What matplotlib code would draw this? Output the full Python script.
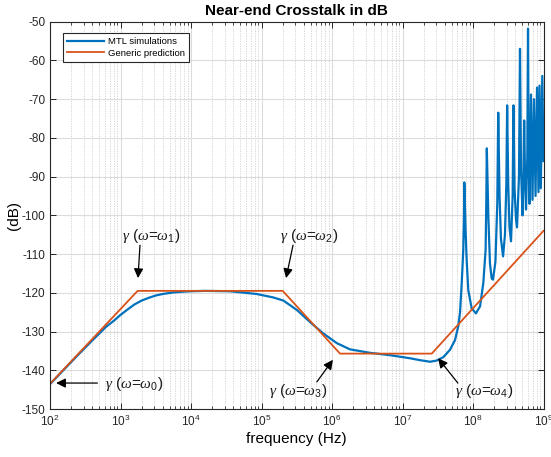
import matplotlib
matplotlib.use("Agg")
import matplotlib.pyplot as plt
import numpy as np

plt.rcParams['font.family'] = ['Liberation Sans', 'DejaVu Sans']
plt.rcParams['mathtext.fontset'] = 'custom'
plt.rcParams['mathtext.rm'] = 'Liberation Sans'
plt.rcParams['mathtext.it'] = 'Liberation Serif:italic'
plt.rcParams['mathtext.bf'] = 'Liberation Sans:bold'
plt.rcParams['axes.unicode_minus'] = False

# ---------------- data ----------------
title = "Near-end Crosstalk in dB"
xlabel = "frequency (Hz)"
ylabel = "(dB)"
series_names = ["MTL simulations", "Generic prediction"]

# MTL simulation curve (frequency in Hz, level in dB)
mtl_freq = [
    1.0e2, 1.58e2, 2.51e2, 3.98e2, 6.31e2, 7.94e2, 1.0e3, 1.26e3, 1.58e3, 2.0e3,
    2.51e3, 3.16e3, 3.98e3, 5.62e3, 7.94e3, 1.0e4, 1.58e4, 3.57e4, 8.51e4, 1.47e5,
    2.04e5, 3.16e5, 5.13e5, 7.53e5, 1.17e6, 1.80e6, 3.47e6, 6.61e6, 1.28e7, 1.78e7,
    2.45e7, 3.05e7, 3.80e7, 4.72e7, 5.56e7, 6.17e7, 6.55e7, 6.92e7, 7.28e7, 7.45e7,
    7.53e7, 7.87e7, 8.13e7, 8.57e7, 9.57e7, 1.10e8, 1.26e8, 1.40e8, 1.51e8, 1.545e8,
    1.57e8, 1.65e8, 1.74e8, 1.84e8, 1.92e8, 2.08e8, 2.21e8, 2.28e8, 2.38e8, 2.49e8,
    2.67e8, 2.84e8, 2.97e8, 3.05e8, 3.16e8, 3.29e8, 3.46e8, 3.65e8, 3.75e8, 3.88e8,
    4.07e8, 4.21e8, 4.49e8, 4.64e8, 4.80e8, 5.04e8, 5.20e8, 5.32e8, 5.47e8, 5.65e8,
    5.89e8, 6.03e8, 6.17e8, 6.33e8, 6.65e8, 6.98e8, 7.33e8, 7.71e8, 8.09e8, 8.49e8,
    8.77e8, 9.16e8, 9.62e8, 1.0e9,
]
mtl_db = [
    -143.6, -139.8, -136.0, -132.3, -128.7, -127.3, -125.7, -124.3, -123.0, -122.0,
    -121.3, -120.7, -120.3, -119.9, -119.7, -119.6, -119.5, -119.6, -120.3, -121.2,
    -122.0, -124.4, -127.9, -130.5, -133.0, -134.6, -135.5, -136.1, -136.9, -137.4,
    -137.8, -137.5, -136.6, -134.7, -132.2, -128.7, -125.0, -117.5, -108.9, -100.3,
    -91.5, -104.6, -111.5, -119.3, -124.0, -125.3, -123.5, -117.5, -108.9, -96.0,
    -82.7, -100.3, -112.4, -116.3, -116.6, -112.0, -97.0, -73.5, -95.0, -106.0,
    -110.6, -105.0, -92.0, -71.6, -92.0, -103.0, -106.7, -95.0, -71.6, -93.0,
    -101.0, -103.1, -90.0, -57.0, -88.0, -100.0, -90.0, -75.5, -90.0, -98.5,
    -85.0, -51.8, -85.0, -97.0, -68.8, -96.0, -70.0, -95.0, -67.0, -94.0,
    -66.5, -93.0, -64.0, -86.0,
]

# Generic (asymptotic) prediction: corner points
pred_freq = [1.0e2, 1.75e3, 2.0e5, 1.3e6, 2.6e7, 1.0e9]
pred_db = [-143.5, -119.5, -119.5, -135.7, -135.7, -104.0]

# annotations: label subscript, arrow tip (freq, dB), arrow tail (freq, dB), text pos (freq, dB)
ann_sub = ["0", "1", "2", "3", "4"]
ann_tip = [(1.22e2, -143.3), (1.77e3, -116.2), (2.23e5, -116.2), (1.03e6, -137.3), (3.2e7, -136.9)]
ann_tail = [(4.7e2, -143.3), (1.89e3, -107.7), (2.8e5, -107.7), (6.1e5, -143.0), (6.1e7, -143.3)]
ann_text = [(1.55e3, -143.6), (2.7e3, -105.3), (4.7e5, -105.3), (3.3e5, -145.3), (1.45e8, -145.3)]

# ---------------- figure ----------------
fig = plt.figure(figsize=(5.51, 4.57), dpi=100)
ax = fig.add_axes([50 / 551, 1 - 409 / 457, 493.5 / 551, (409 - 21.7) / 457])

blue = '#0072BD'
red = '#D95319'
ax.semilogx(mtl_freq, mtl_db, color=blue, lw=1.6, label=series_names[0], solid_joinstyle='round')
ax.semilogx(pred_freq, pred_db, color=red, lw=1.3, label=series_names[1])

ax.set_xlim(1e2, 1e9)
ax.set_ylim(-150, -50)
ax.set_yticks(np.arange(-150, -49, 10))
ax.set_xticks([10.0 ** k for k in range(2, 10)])

ax.grid(True, which='major', color='#dcdcdc', lw=0.8, ls='-')
ax.grid(True, which='minor', axis='x', color='#d0d0d0', lw=0.6, ls=(0, (1.5, 1.5)))
ax.set_axisbelow(True)

ax.tick_params(which='both', direction='in', top=True, right=True, colors='#262626',
               labelsize=8.5, labelcolor='#262626')
ax.tick_params(which='major', length=4, width=0.7)
ax.tick_params(which='minor', length=2.5, width=0.6)
for s in ax.spines.values():
    s.set_color('#262626')
    s.set_linewidth(0.8)

ax.set_title(title, fontsize=11, fontweight='bold', pad=5)
ax.set_xlabel(xlabel, fontsize=11, labelpad=2)
ax.set_ylabel(ylabel, fontsize=11)
ax.yaxis.set_label_coords(-0.058, 0.5)

leg = ax.legend(loc='upper left', fontsize=6.8, frameon=True, fancybox=False,
                edgecolor='#262626', framealpha=1, borderpad=0.45, handlelength=3.9,
                handletextpad=0.4, labelspacing=0.25, borderaxespad=0,
                bbox_to_anchor=(0.026, 0.971))
leg.get_frame().set_linewidth(0.8)

for sub, tip, tail, txt in zip(ann_sub, ann_tip, ann_tail, ann_text):
    ax.annotate('', xy=tip, xytext=tail,
                arrowprops=dict(arrowstyle='-|>', color='black', lw=0.9,
                                mutation_scale=14, shrinkA=0, shrinkB=0))
    ax.text(txt[0], txt[1], r'$\gamma$ ($\omega$=$\omega_{%s}$)' % sub,
            fontsize=11, ha='center', va='center', color='#1a1a1a')

fig.savefig('out.png', dpi=100)
